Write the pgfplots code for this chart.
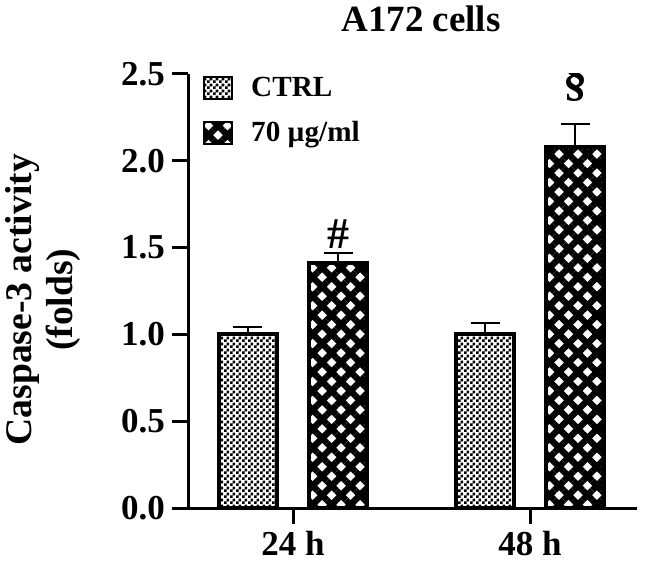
\documentclass[border=0pt]{standalone}
\usepackage{fontspec}
\setmainfont{Liberation Serif}
\usepackage{pgfplots}
\pgfplotsset{compat=1.18}
\usetikzlibrary{patterns,patterns.meta}
\pgfdeclarepatternformonly{finecheck}{\pgfqpoint{0pt}{0pt}}{\pgfqpoint{2.8pt}{2.8pt}}{\pgfqpoint{2.8pt}{2.8pt}}{%
  \pgfpathrectangle{\pgfqpoint{0pt}{0pt}}{\pgfqpoint{1.4pt}{1.4pt}}%
  \pgfpathrectangle{\pgfqpoint{1.4pt}{1.4pt}}{\pgfqpoint{1.4pt}{1.4pt}}%
  \pgfusepath{fill}}
\tikzset{
  ctrlbar/.style={draw=black, line width=2pt, pattern=finecheck, pattern color=black},
  hatchbar/.style={draw=black, line width=2pt,
    pattern={Lines[angle=45,distance=6.7pt,line width=3.2pt]}, pattern color=black,
    postaction={pattern={Lines[angle=-45,distance=6.7pt,line width=3.2pt]}, pattern color=black}},
}
\begin{document}
\begin{tikzpicture}
\begin{axis}[
  at={(0,0)}, anchor=south west,
  scale only axis, width=224.5pt, height=217pt,
  xmin=-0.443, xmax=1.451, ymin=0, ymax=2.5,
  axis x line=bottom, axis y line=left,
  axis line style={line width=1.5pt, -},
  tick style={line width=1.5pt, black},
  major tick length=8pt, tick align=outside,
  xtick={0,1}, xticklabels={24 h, 48 h},
  ytick={0,0.5,1,1.5,2,2.5},
  /pgf/number format/assume math mode=true,
  yticklabel style={/pgf/number format/.cd, fixed, fixed zerofill, precision=1},
  ticklabel style={font=\fontsize{17.5}{20}\selectfont\bfseries},
  title={A172 cells},
  title style={font=\fontsize{18.5}{22}\selectfont\bfseries, at={(axis description cs:0.519,1)}, anchor=base, yshift=15pt},
  ylabel={Caspase-3 activity\\(folds)},
  ylabel style={font=\fontsize{18.8}{20.5}\selectfont\bfseries, at={(axis description cs:-0.324,0.48)}, anchor=center, align=center},
  ybar, bar width=29pt, bar shift=0pt,
  legend style={at={(axis description cs:0.033,1.003)}, anchor=north west, draw=none, fill=none,
    font=\fontsize{14.6}{17}\selectfont\bfseries, row sep=7pt, inner sep=0pt,
    /tikz/every odd column/.append style={column sep=7pt}},
  legend cell align=left,
  legend image code/.code={\draw[#1, line width=1pt] (0pt,-5.5pt) rectangle (14pt,5.5pt);},
  error bars/y dir=plus, error bars/y explicit,
  error bars/error bar style={line width=1pt, black, solid},
  error bars/error mark options={rotate=90, mark size=7.25pt, line width=1pt, black},
]
\addplot[ctrlbar] coordinates {(-0.19,1.00) +- (0,0.04) (0.81,1.00) +- (0,0.065)};
\addlegendentry{CTRL}
\addplot[hatchbar] coordinates {(0.19,1.41) +- (0,0.06) (1.19,2.08) +- (0,0.13)};
\addlegendentry{70 µg/ml}
\node[font=\fontsize{22}{24}\selectfont\bfseries] at (axis cs:0.19,1.58) {\#};
\node[font=\fontsize{24}{26}\selectfont\bfseries] at (axis cs:1.19,2.45) {§};
\end{axis}
\pgfresetboundingbox
\path[use as bounding box] (-94pt,-31.5pt) rectangle (229pt,254pt);
\end{tikzpicture}
\end{document}
